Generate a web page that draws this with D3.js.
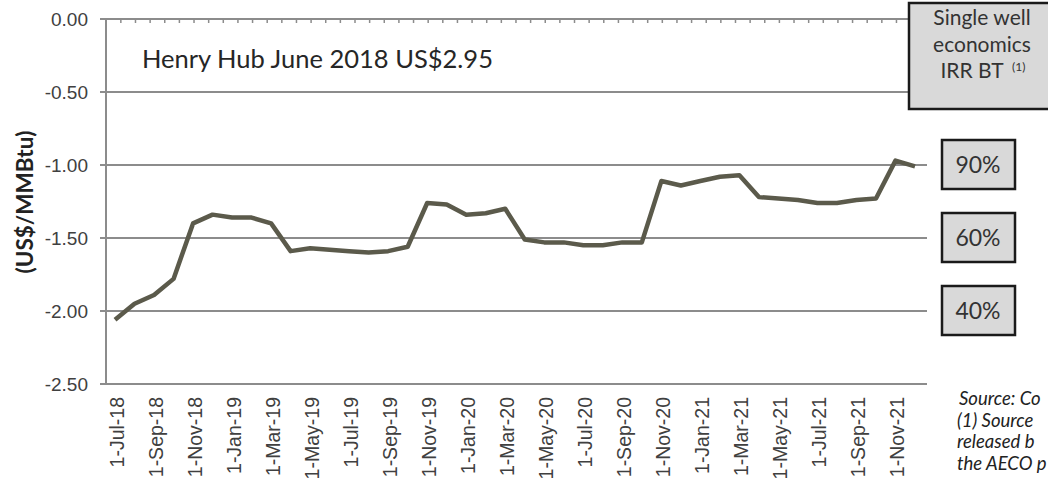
<!DOCTYPE html>
<html>
<head>
<meta charset="utf-8">
<script src="https://cdn.jsdelivr.net/npm/d3@7/dist/d3.min.js"></script>
<style>
  html, body { margin: 0; padding: 0; background: #fff; }
  svg { display: block; }
</style>
</head>
<body>
<div id="chart"></div>
<script>
// ---- Data ----
const months = ["Jul-18","Aug-18","Sep-18","Oct-18","Nov-18","Dec-18",
  "Jan-19","Feb-19","Mar-19","Apr-19","May-19","Jun-19","Jul-19","Aug-19","Sep-19","Oct-19","Nov-19","Dec-19",
  "Jan-20","Feb-20","Mar-20","Apr-20","May-20","Jun-20","Jul-20","Aug-20","Sep-20","Oct-20","Nov-20","Dec-20",
  "Jan-21","Feb-21","Mar-21","Apr-21","May-21","Jun-21","Jul-21","Aug-21","Sep-21","Oct-21","Nov-21","Dec-21"];
const basis = [-2.06,-1.95,-1.89,-1.78,-1.40,-1.34,
  -1.36,-1.36,-1.40,-1.59,-1.57,-1.58,-1.59,-1.60,-1.59,-1.56,-1.26,-1.27,
  -1.34,-1.33,-1.30,-1.51,-1.53,-1.53,-1.55,-1.55,-1.53,-1.53,-1.11,-1.14,
  -1.11,-1.08,-1.07,-1.22,-1.23,-1.24,-1.26,-1.26,-1.24,-1.23,-0.97,-1.01];
const yTicks = [0, -0.5, -1.0, -1.5, -2.0, -2.5];
const xTickLabels = ["1-Jul-18","1-Sep-18","1-Nov-18","1-Jan-19","1-Mar-19","1-May-19","1-Jul-19",
  "1-Sep-19","1-Nov-19","1-Jan-20","1-Mar-20","1-May-20","1-Jul-20","1-Sep-20","1-Nov-20",
  "1-Jan-21","1-Mar-21","1-May-21","1-Jul-21","1-Sep-21","1-Nov-21"];
const irrLabels = ["90%", "60%", "40%"];
const irrValues = [-1.0, -1.5, -2.0];
const titleText = "Henry Hub June 2018 US$2.95";
const yTitle = "(US$/MMBtu)";
const headerLines = ["Single well", "economics", "IRR BT"];
// the reference shows these notes cut off at the right edge; only the visible part is kept
const sourceLines = ["Source: Co", "(1) Source", "released b", "the AECO p"];

// ---- Layout ----
const W = 1048, H = 479;
const svg = d3.select("#chart").append("svg").attr("width", W).attr("height", H);
svg.append("rect").attr("width", W).attr("height", H).attr("fill", "#fff");

const axisX = 106, plotRight = 927;
const x = d3.scaleLinear().domain([0, months.length - 1]).range([115, 915]);
const y = d3.scaleLinear().domain([0, -2.5]).range([19, 384]);
const gridColor = "#8c8c8c";
const tickFont = "'Liberation Sans', Arial, sans-serif";
const calFont = "Lato, 'Open Sans', sans-serif";

// gridlines
svg.append("g").selectAll("line").data(yTicks.filter(d => d !== 0)).join("line")
  .attr("x1", axisX - 6).attr("x2", plotRight)
  .attr("y1", d => y(d)).attr("y2", d => y(d))
  .attr("stroke", gridColor).attr("stroke-width", 2);

// top category axis at 0 with minor ticks
svg.append("line").attr("x1", axisX - 6).attr("x2", 912).attr("y1", y(0)).attr("y2", y(0))
  .attr("stroke", gridColor).attr("stroke-width", 2);
const minorTicks = d3.range(-0.45, months.length - 0.3, 0.75);
svg.append("g").selectAll("line").data(minorTicks).join("line")
  .attr("x1", d => x(d)).attr("x2", d => x(d))
  .attr("y1", y(0)).attr("y2", y(0) + 4)
  .attr("stroke", gridColor).attr("stroke-width", 1.5);

// left axis
svg.append("line").attr("x1", axisX).attr("x2", axisX).attr("y1", y(0)).attr("y2", y(-2.5))
  .attr("stroke", gridColor).attr("stroke-width", 2);

// y tick labels (hyphen minus as in the reference)
svg.append("g").selectAll("text").data(yTicks).join("text")
  .attr("x", 88).attr("y", d => y(d)).attr("dy", "0.35em")
  .attr("text-anchor", "end")
  .attr("font-family", tickFont).attr("font-size", 19).attr("fill", "#404040")
  .text(d => (d === 0 ? 0 : d).toFixed(2));

// y title
svg.append("text")
  .attr("transform", `translate(33,202) rotate(-90)`)
  .attr("text-anchor", "middle")
  .attr("font-family", calFont).attr("font-weight", "bold").attr("font-size", 22.5).attr("fill", "#222")
  .text(yTitle);

// x tick labels (every other month)
svg.append("g").selectAll("text").data(xTickLabels).join("text")
  .attr("transform", (d, i) => `translate(${x(i * 2) + 2},397) rotate(-90)`)
  .attr("dy", "0.35em")
  .attr("text-anchor", "end")
  .attr("font-family", tickFont).attr("font-size", 19.5).attr("fill", "#404040")
  .text(d => d);

// line
const line = d3.line().x((d, i) => x(i)).y(d => y(d));
svg.append("path").datum(basis)
  .attr("d", line).attr("fill", "none")
  .attr("stroke", "#5b5a4b").attr("stroke-width", 4.5)
  .attr("stroke-linejoin", "round").attr("stroke-linecap", "butt");

// title text
svg.append("text").attr("x", 142).attr("y", 68)
  .attr("font-family", calFont).attr("font-size", 25.5).attr("fill", "#262626")
  .text(titleText);

// header box
const hb = svg.append("g");
hb.append("rect").attr("x", 909).attr("y", 3).attr("width", 150).attr("height", 106)
  .attr("fill", "#d9d9d9").attr("stroke", "#1a1a1a").attr("stroke-width", 2.5);
const ht = hb.append("text").attr("text-anchor", "middle")
  .attr("font-family", calFont).attr("font-size", 21).attr("fill", "#333");
headerLines.forEach((t, i) => {
  ht.append("tspan").attr("x", i === 2 ? 972 : 982).attr("y", 25 + i * 26.5).text(t);
});
hb.append("text").attr("x", 1012).attr("y", 71)
  .attr("font-family", calFont).attr("font-size", 12).attr("fill", "#333").text("(1)");

// IRR boxes
const ib = svg.append("g").selectAll("g").data(irrLabels).join("g");
ib.append("rect")
  .attr("x", 942).attr("y", (d, i) => y(irrValues[i]) - 25)
  .attr("width", 73).attr("height", 49)
  .attr("fill", "#d9d9d9").attr("stroke", "#1a1a1a").attr("stroke-width", 2.5);
ib.append("text")
  .attr("x", 978).attr("y", (d, i) => y(irrValues[i]) + 8)
  .attr("text-anchor", "middle")
  .attr("font-family", calFont).attr("font-size", 23).attr("fill", "#333")
  .text(d => d);

// source notes
svg.append("g").selectAll("text").data(sourceLines).join("text")
  .attr("x", (d, i) => i === 0 ? 959 : 957).attr("y", (d, i) => 405 + i * 21.5)
  .attr("font-family", calFont).attr("font-style", "italic").attr("font-size", 18.5).attr("fill", "#222")
  .text(d => d);
</script>
</body>
</html>
